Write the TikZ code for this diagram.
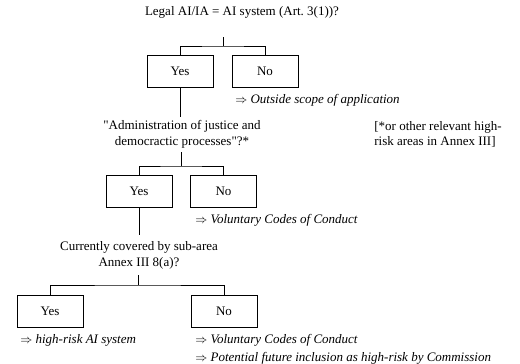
\documentclass[tikz,border=0pt]{standalone}
\usepackage{fontspec}
\setmainfont{Liberation Serif}
\begin{document}
\begin{tikzpicture}[x=1pt,y=-1pt,line width=0.7pt,
  choice/.style={draw, minimum width=66pt, minimum height=32pt, inner sep=0pt, font=\fontsize{13}{15.5}\selectfont},
  txt/.style={inner sep=0pt, font=\fontsize{13}{15.5}\selectfont, align=center},
  res/.style={inner sep=0pt, anchor=west, font=\fontsize{13}{15.5}\selectfont\itshape}]
\useasboundingbox (0,0) rectangle (520,364);
% question 1
\node[txt] (title) at (242,12) {Legal AI/IA = AI system (Art.~3(1))?};
\coordinate (s1) at (223,37);
\coordinate (j1) at (223,46);
\node[choice] (yes1) at (180,71) {Yes};
\node[choice] (no1) at (265,71) {No};
\node[res] (out1) at (235,100) {$\Rightarrow$ Outside scope of application};
\coordinate (e1) at (180,117);
\draw (s1) -- (j1);
\draw (yes1.north) |- (j1) -| (no1.north);
\draw (yes1.south) -- (e1);
% question 2
\node[txt] (q2) at (182,134.5) {\textquotedbl Administration of justice and\\democractic processes\textquotedbl ?*};
\node[txt, align=left, anchor=west] (note) at (374,134.5) {[*or other relevant high-\\risk areas in Annex III]};
\coordinate (s2) at (181,152);
\coordinate (j2) at (181,166);
\node[choice] (yes2) at (139,191) {Yes};
\node[choice] (no2) at (223.5,191) {No};
\node[res] (vol1) at (195,220) {$\Rightarrow$ Voluntary Codes of Conduct};
\coordinate (e2) at (139,235);
\draw (s2) -- (j2);
\draw (yes2.north) |- (j2) -| (no2.north);
\draw (yes2.south) -- (e2);
% question 3
\node[txt] (q3) at (139,255.5) {Currently covered by sub-area\\Annex III 8(a)?};
\coordinate (s3) at (138,275);
\coordinate (j3) at (138,285);
\node[choice] (yes3) at (50,311) {Yes};
\node[choice] (no3) at (224,311) {No};
\node[res] (risk) at (20,340) {$\Rightarrow$ high-risk AI system};
\node[res] (vol2) at (195,340) {$\Rightarrow$ Voluntary Codes of Conduct};
\node[res] (pot) at (195,358) {$\Rightarrow$ Potential future inclusion as high-risk by Commission};
\draw (s3) -- (j3);
\draw (yes3.north) |- (j3) -| (no3.north);
\end{tikzpicture}
\end{document}
